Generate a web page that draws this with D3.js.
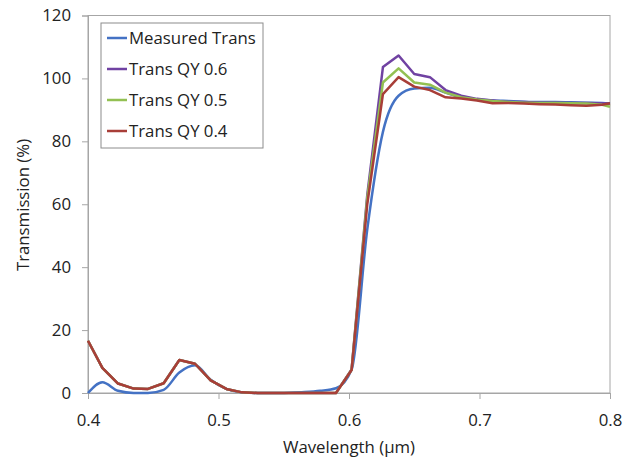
<!DOCTYPE html>
<html>
<head>
<meta charset="utf-8">
<script src="https://cdn.jsdelivr.net/npm/d3@7"></script>
<style>
  body { margin: 0; background: #fff; }
  text { font-family: "Open Sans", sans-serif; fill: #222; }
</style>
</head>
<body>
<svg id="chart" width="634" height="460"></svg>
<script>
// longitudes de onda (µm)
const longitudes = [0.400, 0.411, 0.423, 0.435, 0.446, 0.458, 0.470, 0.482, 0.494, 0.506,
  0.518, 0.530, 0.542, 0.554, 0.566, 0.578, 0.590, 0.602, 0.614, 0.626,
  0.638, 0.650, 0.662, 0.674, 0.686, 0.698, 0.710, 0.722, 0.734, 0.746,
  0.758, 0.770, 0.782, 0.794, 0.800];

const medida = [0, 3.4, 0.7, 0, 0, 1.0, 6.5, 8.8, 4.2, 1.3,
  0.2, 0, 0, 0.1, 0.3, 0.7, 1.5, 7.5, 52, 83,
  94.5, 96.8, 97, 95.5, 94, 93.3, 93, 92.8, 92.6, 92.5,
  92.5, 92.4, 92.3, 92.2, 92.0];

const qy06 = [16.6, 8.0, 3.0, 1.4, 1.3, 3.1, 10.5, 9.3, 4.0, 1.3,
  0.2, 0, 0, 0, 0, 0, 0, 7.5, 63, 103.6,
  107.3, 101.4, 100.4, 96.3, 94.5, 93.5, 93, 92.5, 92.5, 92.3,
  92.3, 92.2, 92.2, 92.0, 92.0];

const qy05 = [16.6, 8.0, 3.0, 1.4, 1.3, 3.1, 10.5, 9.3, 4.0, 1.3,
  0.2, 0, 0, 0, 0, 0, 0, 7.4, 62, 98.7,
  103.2, 98.7, 98, 95.5, 94, 93.3, 92.8, 92.5, 92.3, 92.2,
  92.2, 92.1, 92.0, 91.6, 91.0];

const qy04 = [16.6, 8.0, 3.0, 1.4, 1.3, 3.1, 10.5, 9.3, 4.0, 1.3,
  0.2, 0, 0, 0, 0, 0, 0, 7.3, 60, 95,
  100.4, 97.4, 96.3, 94.0, 93.6, 93, 92.1, 92.2, 92.0, 91.8,
  91.7, 91.5, 91.3, 91.6, 92.1];

const nombres = ["Measured Trans", "Trans QY 0.6", "Trans QY 0.5", "Trans QY 0.4"];
const colores = ["#4472C4", "#7042A2", "#93C052", "#A83E38"];
const xTicks = [0.4, 0.5, 0.6, 0.7, 0.8];
const yTicks = [0, 20, 40, 60, 80, 100, 120];

const series = [medida, qy06, qy05, qy04];

const svg = d3.select("#chart");
const margenIzq = 88, margenDer = 610, margenSup = 15.5, margenInf = 393;
const tamLetra = 16.8;

const x = d3.scaleLinear().domain([0.4, 0.8]).range([margenIzq, margenDer]);
const y = d3.scaleLinear().domain([0, 120]).range([margenInf, margenSup]);

// marco del área de trazado
svg.append("rect")
  .attr("x", margenIzq).attr("y", margenSup)
  .attr("width", margenDer - margenIzq).attr("height", margenInf - margenSup)
  .attr("fill", "none").attr("stroke", "#a6a6a6").attr("stroke-width", 1);

const ejeY = svg.append("g")
  .attr("transform", `translate(${margenIzq},0)`)
  .call(d3.axisLeft(y).tickValues(yTicks).tickSize(6).tickPadding(11));

const ejeX = svg.append("g")
  .attr("transform", `translate(0,${margenInf})`)
  .call(d3.axisBottom(x).tickValues(xTicks).tickSize(6).tickPadding(15)
    .tickFormat(d3.format(".1f")));

[ejeX, ejeY].forEach(g => {
  g.select(".domain").attr("stroke", "#a6a6a6");
  g.selectAll(".tick line").attr("stroke", "#a6a6a6");
  g.selectAll(".tick text").attr("font-size", tamLetra).attr("fill", "#222")
    .attr("font-family", "'Open Sans', sans-serif");
});

// líneas
series.forEach((vals, i) => {
  const linea = d3.line()
    .x((d, j) => x(longitudes[j]))
    .y(d => y(d))
    .curve(i === 0 ? d3.curveMonotoneX : d3.curveLinear);
  svg.append("path")
    .datum(vals)
    .attr("fill", "none")
    .attr("stroke", colores[i])
    .attr("stroke-width", 2.5)
    .attr("stroke-linejoin", "round")
    .attr("d", linea);
});

// títulos de ejes
svg.append("text")
  .attr("x", 349).attr("y", 453)
  .attr("text-anchor", "middle").attr("font-size", tamLetra)
  .text("Wavelength (µm)");

svg.append("text")
  .attr("transform", `translate(29,205) rotate(-90)`)
  .attr("text-anchor", "middle").attr("font-size", tamLetra)
  .text("Transmission (%)");

// leyenda
const leyenda = svg.append("g");
leyenda.append("rect")
  .attr("x", 101).attr("y", 23).attr("width", 162).attr("height", 125)
  .attr("fill", "#fff").attr("stroke", "#8c8c8c");

nombres.forEach((n, i) => {
  const yy = 38 + i * 31;
  leyenda.append("line")
    .attr("x1", 107).attr("x2", 127).attr("y1", yy).attr("y2", yy)
    .attr("stroke", colores[i]).attr("stroke-width", 2.5);
  leyenda.append("text")
    .attr("x", 129).attr("y", yy).attr("dy", "0.35em")
    .attr("font-size", tamLetra)
    .text(n);
});
</script>
</body>
</html>
